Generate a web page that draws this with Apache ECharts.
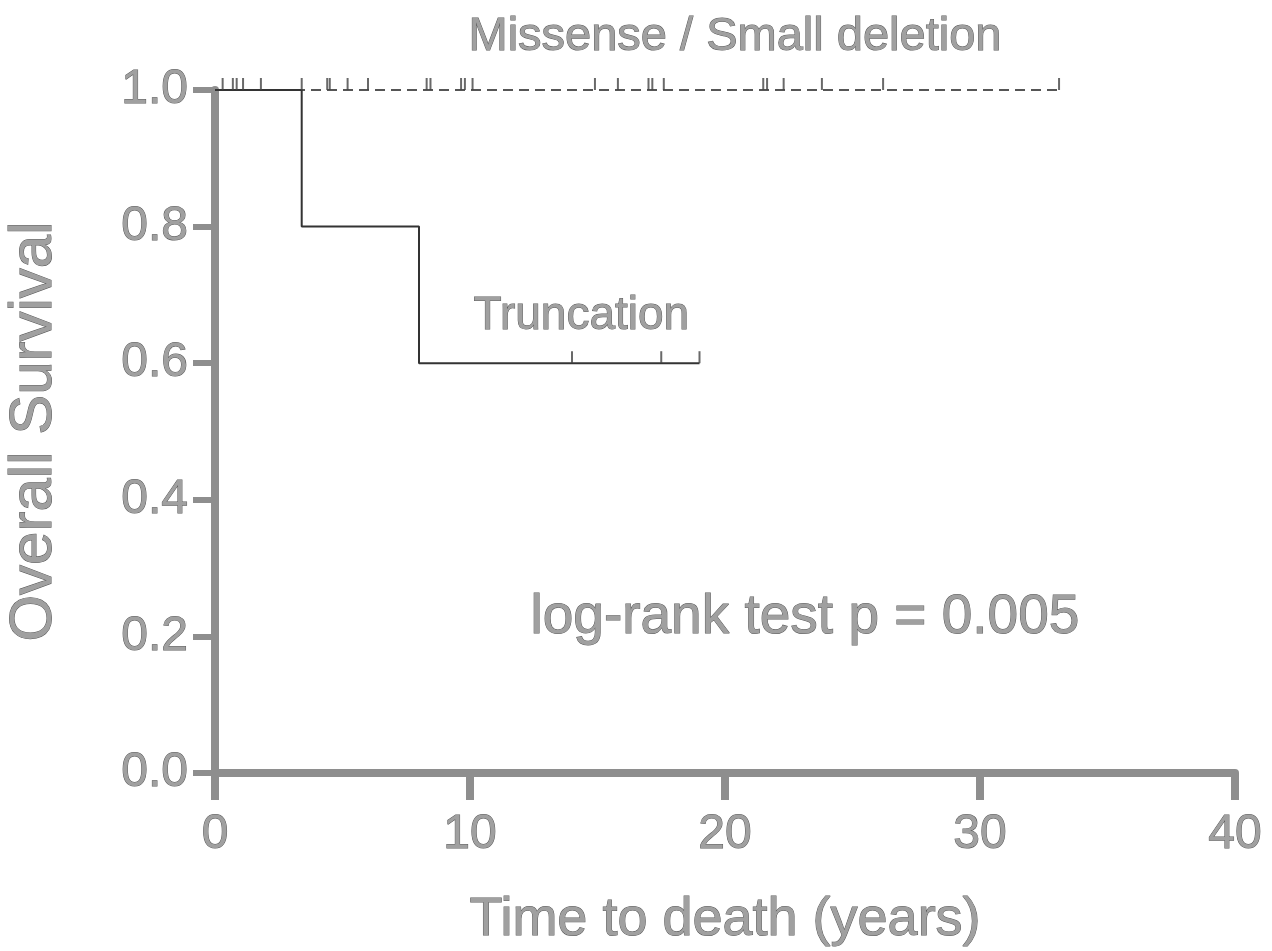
<!DOCTYPE html>
<html lang="en">
<head>
    <meta charset="UTF-8">
    <title>Overall Survival</title>
    <script src="https://cdn.jsdelivr.net/npm/echarts@6/dist/echarts.min.js"></script>
    <style>
        html, body { margin: 0; padding: 0; background: #fff; }
        #main { width: 1272px; height: 951px; }
    </style>
</head>
<body>
<div id="main"></div>
<script type="text/javascript">
    // Kaplan-Meier steps (time in years, survival fraction)
    var truncTimes = [0, 3.4, 8.0, 19.0];
    var truncSurv = [1.0, 0.8, 0.6, 0.6];
    var truncCensor = [14.0, 17.5, 19.0];

    var missTimes = [0, 33.1];
    var missSurv = [1.0, 1.0];
    var missCensor = [0.3, 0.7, 0.85, 1.1, 1.8, 3.4, 4.4, 4.5, 5.2, 6.0, 8.3, 8.45,
        9.65, 9.8, 10.1, 14.9, 15.8, 17.0, 17.15, 17.6, 21.5, 21.65, 22.3, 23.8, 26.2, 33.1];

    var xTicks = [0, 10, 20, 30, 40];
    var yTicks = [0.0, 0.2, 0.4, 0.6, 0.8, 1.0];

    var textGrey = '#a0a0a0';
    var edgeGrey = '#5a5a5a';
    var axisGrey = '#8e8e8e';
    var font = 'Liberation Sans, Arial, sans-serif';

    function pairs(xs, ys) {
        return xs.map(function (x, i) { return [x, ys[i]]; });
    }
    // censored obs sit on the curve at the survival value of that time
    function censorPts(times, stepT, stepS) {
        return times.map(function (t) {
            var s = stepS[0];
            for (var i = 0; i < stepT.length; i++) {
                if (stepT[i] <= t) s = stepS[i];
            }
            return [t, s];
        });
    }

    var myChart = echarts.init(document.getElementById('main'));
    var option = {
        backgroundColor: '#fff',
        animation: false,
        grid: { left: 215, right: 37, top: 90, bottom: 178, outerBoundsMode: 'none', containLabel: false },
        xAxis: {
            type: 'value',
            min: xTicks[0],
            max: xTicks[xTicks.length - 1],
            interval: 10,
            name: 'Time to death (years)',
            nameLocation: 'middle',
            nameGap: 120,
            nameTextStyle: {
                fontFamily: font, fontSize: 54, color: textGrey,
                textBorderColor: edgeGrey, textBorderWidth: 1
            },
            axisLine: { onZero: false, lineStyle: { color: axisGrey, width: 8 } },
            axisTick: { inside: false, length: 27, lineStyle: { color: axisGrey, width: 8 } },
            axisLabel: {
                margin: 38, fontFamily: font, fontSize: 48, color: textGrey,
                textBorderColor: edgeGrey, textBorderWidth: 1
            },
            splitLine: { show: false }
        },
        yAxis: {
            type: 'value',
            min: yTicks[0],
            max: yTicks[yTicks.length - 1],
            interval: 0.2,
            name: 'Overall Survival',
            nameLocation: 'middle',
            nameGap: 151,
            nameTextStyle: {
                fontFamily: font, fontSize: 60, color: textGrey,
                textBorderColor: edgeGrey, textBorderWidth: 1
            },
            axisLine: { lineStyle: { color: axisGrey, width: 8 } },
            axisTick: { inside: false, length: 22, lineStyle: { color: axisGrey, width: 6 } },
            axisLabel: {
                margin: 27, fontFamily: font, fontSize: 48, color: textGrey,
                textBorderColor: edgeGrey, textBorderWidth: 1,
                formatter: function (v) { return v.toFixed(1); }
            },
            splitLine: { show: false }
        },
        series: [
            {
                name: 'Missense / Small deletion',
                type: 'line',
                step: 'end',
                data: pairs(missTimes, missSurv),
                showSymbol: false,
                lineStyle: { color: '#555', width: 2, type: [10, 6] },
                z: 3
            },
            {
                name: 'Truncation',
                type: 'line',
                step: 'end',
                data: pairs(truncTimes, truncSurv),
                showSymbol: false,
                lineStyle: { color: '#333', width: 2, type: 'solid' },
                z: 4
            },
            {
                name: 'Missense censored',
                type: 'scatter',
                data: censorPts(missCensor, missTimes, missSurv),
                symbol: 'rect',
                symbolSize: [2, 12],
                symbolOffset: [0, -6],
                itemStyle: { color: '#444' },
                z: 5
            },
            {
                name: 'Truncation censored',
                type: 'scatter',
                data: censorPts(truncCensor, truncTimes, truncSurv),
                symbol: 'rect',
                symbolSize: [2, 12],
                symbolOffset: [0, -6],
                itemStyle: { color: '#444' },
                z: 5
            }
        ],
        graphic: [
            {
                type: 'text', left: 468, top: 13,
                style: {
                    text: 'Missense / Small deletion', font: '47px ' + font,
                    fill: textGrey, stroke: edgeGrey, lineWidth: 1
                }
            },
            {
                type: 'text', left: 473, top: 293,
                style: {
                    text: 'Truncation', font: '46px ' + font,
                    fill: textGrey, stroke: edgeGrey, lineWidth: 1
                }
            },
            {
                type: 'text', left: 530, top: 590,
                style: {
                    text: 'log-rank test p = 0.005', font: '55px ' + font,
                    fill: textGrey, stroke: edgeGrey, lineWidth: 1
                }
            }
        ]
    };
    myChart.setOption(option);
</script>
</body>
</html>
